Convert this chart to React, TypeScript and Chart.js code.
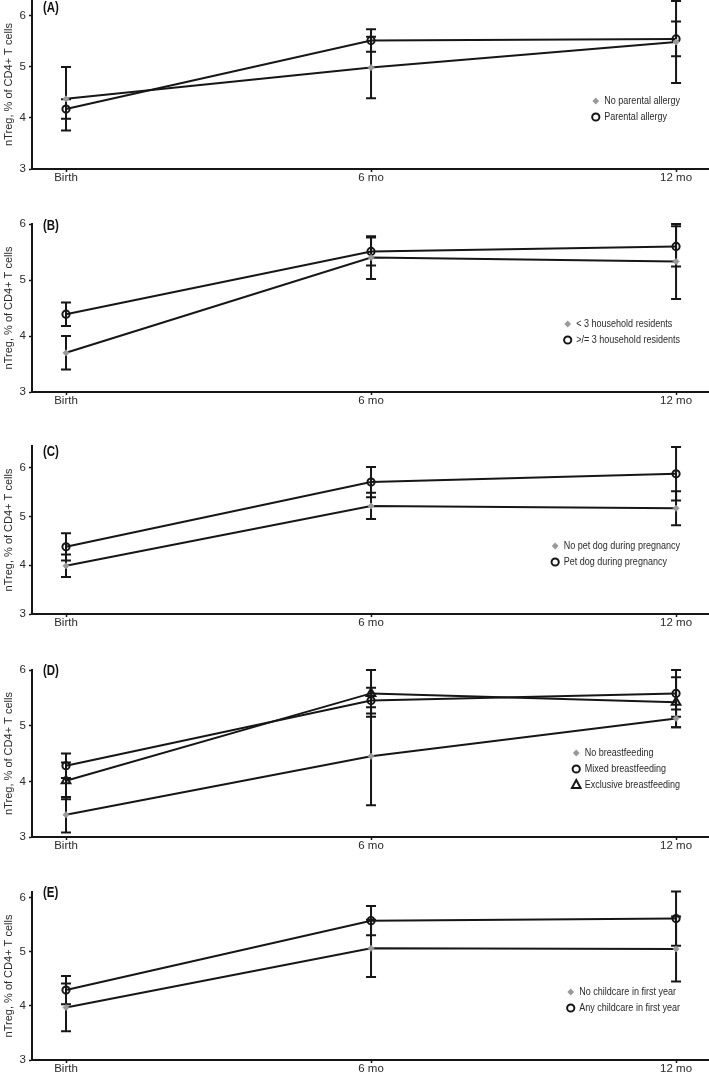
import React, { useEffect, useRef } from 'react';
import { Chart, registerables } from 'chart.js';

Chart.register(...registerables);

// ---------- shared categories / ticks ----------
const timePoints = ['Birth', '6 mo', '12 mo'];
const yTickValues = [3, 4, 5, 6];

// ---------- Panel A ----------
const aLegend = ['No parental allergy', 'Parental allergy'];
const aNoParentalAllergy = [4.37, 4.98, 5.48];
const aNoParentalAllergyErr = [0.62, 0.6, 0.8];
const aParentalAllergy = [4.17, 5.51, 5.54];
const aParentalAllergyErr = [0.19, 0.22, 0.34];

// ---------- Panel B ----------
const bLegend = ['< 3 household residents', '>/= 3 household residents'];
const bLessThan3 = [3.7, 5.4, 5.33];
const bLessThan3Err = [0.3, 0.38, 0.67];
const bAtLeast3 = [4.39, 5.51, 5.6];
const bAtLeast3Err = [0.21, 0.25, 0.36];

// ---------- Panel C ----------
const cLegend = ['No pet dog during pregnancy', 'Pet dog during pregnancy'];
const cNoPetDog = [3.99, 5.22, 5.17];
const cNoPetDogErr = [0.23, 0.27, 0.35];
const cPetDog = [4.38, 5.71, 5.88];
const cPetDogErr = [0.28, 0.31, 0.55];

// ---------- Panel D ----------
const dLegend = ['No breastfeeding', 'Mixed breastfeeding', 'Exclusive breastfeeding'];
const dNoBreastfeeding = [3.4, 4.45, 5.13];
const dNoBreastfeedingErr = [0.32, 0.88, 0.16];
const dMixedBreastfeeding = [4.28, 5.45, 5.58];
const dMixedBreastfeedingErr = [0.22, 0.23, 0.42];
const dExclusiveBreastfeeding = [4.01, 5.58, 5.42];
const dExclusiveBreastfeedingErr = [0.33, 0.42, 0.45];

// ---------- Panel E ----------
const eLegend = ['No childcare in first year', 'Any childcare in first year'];
const eNoChildcare = [3.97, 5.06, 5.05];
const eNoChildcareErr = [0.44, 0.53, 0.6];
const eAnyChildcare = [4.29, 5.57, 5.61];
const eAnyChildcareErr = [0.26, 0.27, 0.5];

const yTitle = 'nTreg, % of CD4+ T cells';

// ---------- styling ----------
const FONT = "'Liberation Sans', Arial, sans-serif";
const NARROW = 0.82;
const TEXT = '#2a2a2a';
const LINE = '#161616';
const GREY = '#9a9a9a';
const PAD = 10;
const XAXIS_H = 24;
const Y_AXIS_W = 32;
const X_MIN = -0.1115;
const X_MAX = 2.108;

type Marker = 'diamond' | 'circle' | 'triangle';
interface Series { name: string; values: number[]; errors: number[]; marker: Marker }
interface PanelCfg { label: string; yMax: number; plotTop: number; plotBottom: number; labelDy: number; series: Series[] }

const panels: PanelCfg[] = [
  {
    label: '(A)', yMax: 6.3, plotTop: 0, plotBottom: 169.3, labelDy: 8,
    series: [
      { name: aLegend[0], values: aNoParentalAllergy, errors: aNoParentalAllergyErr, marker: 'diamond' },
      { name: aLegend[1], values: aParentalAllergy, errors: aParentalAllergyErr, marker: 'circle' },
    ],
  },
  {
    label: '(B)', yMax: 6, plotTop: 224, plotBottom: 392, labelDy: 2,
    series: [
      { name: bLegend[0], values: bLessThan3, errors: bLessThan3Err, marker: 'diamond' },
      { name: bLegend[1], values: bAtLeast3, errors: bAtLeast3Err, marker: 'circle' },
    ],
  },
  {
    label: '(C)', yMax: 6.45, plotTop: 446, plotBottom: 614.3, labelDy: 6,
    series: [
      { name: cLegend[0], values: cNoPetDog, errors: cNoPetDogErr, marker: 'diamond' },
      { name: cLegend[1], values: cPetDog, errors: cPetDogErr, marker: 'circle' },
    ],
  },
  {
    label: '(D)', yMax: 6, plotTop: 670, plotBottom: 836.7, labelDy: 1,
    series: [
      { name: dLegend[0], values: dNoBreastfeeding, errors: dNoBreastfeedingErr, marker: 'diamond' },
      { name: dLegend[1], values: dMixedBreastfeeding, errors: dMixedBreastfeedingErr, marker: 'circle' },
      { name: dLegend[2], values: dExclusiveBreastfeeding, errors: dExclusiveBreastfeedingErr, marker: 'triangle' },
    ],
  },
  {
    label: '(E)', yMax: 6.1, plotTop: 892, plotBottom: 1060, labelDy: 1,
    series: [
      { name: eLegend[0], values: eNoChildcare, errors: eNoChildcareErr, marker: 'diamond' },
      { name: eLegend[1], values: eAnyChildcare, errors: eAnyChildcareErr, marker: 'circle' },
    ],
  },
];

function drawMarker(ctx: CanvasRenderingContext2D, m: Marker, x: number, y: number) {
  ctx.save();
  if (m === 'diamond') {
    const r = 3.4;
    ctx.fillStyle = GREY;
    ctx.beginPath();
    ctx.moveTo(x, y - r); ctx.lineTo(x + r, y); ctx.lineTo(x, y + r); ctx.lineTo(x - r, y);
    ctx.closePath(); ctx.fill();
  } else if (m === 'circle') {
    ctx.strokeStyle = LINE; ctx.lineWidth = 2;
    ctx.beginPath(); ctx.arc(x, y, 3.6, 0, Math.PI * 2); ctx.stroke();
  } else {
    const r = 5;
    ctx.strokeStyle = LINE; ctx.lineWidth = 2;
    ctx.beginPath();
    ctx.moveTo(x, y - r);
    ctx.lineTo(x + r * Math.sin(Math.PI / 3), y + r * 0.5 + 0.5);
    ctx.lineTo(x - r * Math.sin(Math.PI / 3), y + r * 0.5 + 0.5);
    ctx.closePath(); ctx.stroke();
  }
  ctx.restore();
}

// draw horizontally condensed text (the original uses a narrow face)
function narrowText(ctx: CanvasRenderingContext2D, text: string, x: number, y: number) {
  ctx.save();
  ctx.translate(x, y);
  ctx.scale(NARROW, 1);
  ctx.fillText(text, 0, 0);
  ctx.restore();
}

function Panel({ cfg }: { cfg: PanelCfg }) {
  const ref = useRef<HTMLCanvasElement>(null);
  const H = Math.round(cfg.plotBottom - cfg.plotTop + PAD + XAXIS_H);

  useEffect(() => {
    const canvas = ref.current!;

    const errorBars = {
      id: 'errorBars',
      beforeDatasetsDraw(chart: any) {
        const { ctx } = chart;
        const xs = chart.scales.x;
        const ys = chart.scales.y;
        ctx.save();
        ctx.strokeStyle = LINE;
        ctx.lineWidth = 2;
        cfg.series.forEach((s) => {
          s.values.forEach((v, i) => {
            const x = xs.getPixelForValue(i);
            const yt = ys.getPixelForValue(v + s.errors[i]);
            const yb = ys.getPixelForValue(v - s.errors[i]);
            ctx.beginPath();
            ctx.moveTo(x, yt); ctx.lineTo(x, yb);
            ctx.moveTo(x - 5, yt); ctx.lineTo(x + 5, yt);
            ctx.moveTo(x - 5, yb); ctx.lineTo(x + 5, yb);
            ctx.stroke();
          });
        });
        ctx.restore();
      },
    };

    const legendAndLabel = {
      id: 'legendAndLabel',
      afterDraw(chart: any) {
        const { ctx, chartArea } = chart;
        ctx.save();
        // panel label
        ctx.font = `bold 14px ${FONT}`;
        ctx.fillStyle = '#111';
        ctx.textAlign = 'left';
        ctx.textBaseline = 'middle';
        narrowText(ctx, cfg.label, chartArea.left + 11, chartArea.top + cfg.labelDy);
        // legend
        ctx.font = `11px ${FONT}`;
        const widths = cfg.series.map((s) => ctx.measureText(s.name).width * NARROW);
        const maxW = Math.max(...widths);
        const textX = chartArea.right - 29 - maxW;
        const n = cfg.series.length;
        cfg.series.forEach((s, i) => {
          const y = chartArea.bottom - 52 - (n - 1 - i) * 16;
          drawMarker(ctx, s.marker, textX - 8.5, y);
          ctx.fillStyle = TEXT;
          ctx.textAlign = 'left';
          ctx.textBaseline = 'middle';
          narrowText(ctx, s.name, textX, y);
        });
        ctx.restore();
      },
    };

    const chart = new Chart(canvas, {
      type: 'line',
      data: {
        datasets: cfg.series.map((s) => ({
          label: s.name,
          data: s.values.map((v, i) => ({ x: i, y: v })),
          borderColor: LINE,
          borderWidth: 2,
          tension: 0,
          fill: false,
          clip: false,
          pointStyle: s.marker === 'diamond' ? 'rectRot' : s.marker,
          pointRadius: s.marker === 'diamond' ? 3 : s.marker === 'triangle' ? 5 : 3.6,
          pointBorderWidth: s.marker === 'diamond' ? 1 : 2,
          pointBackgroundColor: s.marker === 'diamond' ? GREY : 'rgba(0,0,0,0)',
          pointBorderColor: s.marker === 'diamond' ? GREY : LINE,
        })),
      },
      options: {
        responsive: false,
        animation: false,
        devicePixelRatio: 1,
        layout: { autoPadding: false, padding: { top: PAD, left: 0, right: 0, bottom: 0 } },
        plugins: { legend: { display: false }, tooltip: { enabled: false } },
        scales: {
          x: {
            type: 'linear',
            min: X_MIN,
            max: X_MAX,
            afterBuildTicks: (sc: any) => { sc.ticks = timePoints.map((_, i) => ({ value: i })); },
            afterFit: (sc: any) => { sc.height = XAXIS_H; sc.paddingLeft = 0; sc.paddingRight = 0; },
            ticks: {
              callback: (_v: any, i: number) => timePoints[i] ?? '',
              font: { family: FONT, size: 11.5 },
              color: TEXT,
              padding: -1.5,
              maxRotation: 0,
              autoSkip: false,
            },
            grid: { drawOnChartArea: false, drawTicks: true, tickLength: 3, tickWidth: 1.5, tickColor: LINE, color: LINE },
            border: { display: true, color: LINE, width: 2 },
          },
          y: {
            type: 'linear',
            min: 3,
            max: cfg.yMax,
            afterBuildTicks: (sc: any) => { sc.ticks = yTickValues.map((v) => ({ value: v })); },
            afterFit: (sc: any) => { sc.width = Y_AXIS_W; },
            ticks: {
              callback: (v: any) => String(v),
              font: { family: FONT, size: 11.5 },
              color: TEXT,
              padding: 3,
            },
            grid: { drawOnChartArea: false, drawTicks: true, tickLength: 3, tickWidth: 1.5, tickColor: LINE, color: LINE },
            border: { display: true, color: LINE, width: 2 },
            title: {
              display: true,
              text: yTitle,
              font: { family: FONT, size: 11 },
              color: TEXT,
              padding: { top: 2.5, bottom: 0 },
            },
          },
        },
      },
      plugins: [errorBars, legendAndLabel],
    } as any);
    return () => chart.destroy();
  }, []);

  return (
    <canvas
      ref={ref}
      width={709}
      height={H}
      style={{ position: 'absolute', left: 0, top: cfg.plotTop - PAD, width: 709, height: H, display: 'block' }}
    />
  );
}

export default function App() {
  return (
    <div style={{ position: 'absolute', left: 0, top: 0, width: 709, height: 1076, overflow: 'hidden', background: '#fff' }}>
      {panels.map((p) => (
        <Panel key={p.label} cfg={p} />
      ))}
    </div>
  );
}
